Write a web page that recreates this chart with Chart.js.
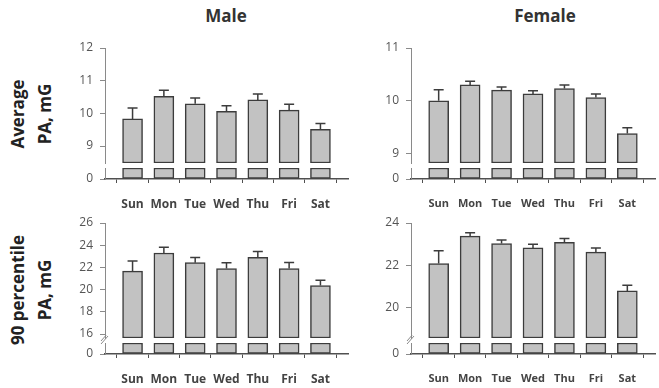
<!DOCTYPE html>
<html>
<head>
<meta charset="utf-8">
<script src="https://cdn.jsdelivr.net/npm/chart.js@4.4.1/dist/chart.umd.min.js"></script>
<style>
  body { margin: 0; background: #fff; }
  #wrap { position: relative; width: 659px; height: 388px; overflow: hidden; font-family: "Open Sans", sans-serif; }
  canvas { position: absolute; }
  .title { position: absolute; top: 4px; font-weight: bold; font-size: 17px; color: #333; transform: translateX(-50%); }
  .rowlab { position: absolute; font-weight: bold; font-size: 17px; color: #222; line-height: 27px;
            text-align: center; white-space: nowrap; transform: translate(-50%, -50%) rotate(-90deg); }
</style>
</head>
<body>
<div id="wrap">
  <div class="title" style="left:226px">Male</div>
  <div class="title" style="left:545px">Female</div>
  <div class="rowlab" style="left:31px; top:114px">Average<br>PA, mG</div>
  <div class="rowlab" style="left:31px; top:290px">90 percentile<br>PA, mG</div>
</div>

<script>
// dager og verdier lest av bildet (gjennomsnitt + standardfeil)
const days = ['Sun', 'Mon', 'Tue', 'Wed', 'Thu', 'Fri', 'Sat'];

const maleAvg = [9.83, 10.52, 10.29, 10.06, 10.41, 10.10, 9.51];
const maleAvgErr = [0.33, 0.19, 0.18, 0.17, 0.18, 0.18, 0.18];
const femaleAvg = [10.00, 10.30, 10.20, 10.13, 10.23, 10.06, 9.38];
const femaleAvgErr = [0.21, 0.07, 0.06, 0.06, 0.07, 0.07, 0.11];

const male90 = [21.67, 23.30, 22.43, 21.90, 22.90, 21.90, 20.36];
const male90Err = [0.91, 0.52, 0.47, 0.53, 0.53, 0.55, 0.49];
const female90 = [22.08, 23.38, 23.03, 22.82, 23.08, 22.62, 20.78];
const female90Err = [0.60, 0.16, 0.17, 0.17, 0.19, 0.19, 0.27];

// y-akse: ticks over bruddet
const maleAvgTicks = [9, 10, 11, 12];
const femaleAvgTicks = [9, 10, 11];
const male90Ticks = [16, 18, 20, 22, 24, 26];
const female90Ticks = [20, 22, 24];

const lowerTicks = [0];

const wrap = document.getElementById('wrap');
const BAR_FILL = '#c2c2c2';
const BAR_EDGE = '#3c3c3c';
const Y_COLOR = '#8a8a8a';
const X_COLOR = '#505050';

function makeCanvas(left, top, width, height) {
    const c = document.createElement('canvas');
    c.width = width;
    c.height = height;
    c.style.left = left + 'px';
    c.style.top = top + 'px';
    wrap.appendChild(c);
    return c;
}

// feilstolper (bare opp) tegnes med skalaene til grafen
const errorBars = {
    id: 'errorBars',
    afterDatasetsDraw(chart, args, opts) {
        const ctx = chart.ctx;
        const xs = chart.scales.x, ys = chart.scales.y;
        ctx.save();
        ctx.strokeStyle = BAR_EDGE;
        ctx.lineWidth = 1.5;
        opts.values.forEach((v, i) => {
            const x = xs.getPixelForValue(i);
            const y0 = ys.getPixelForValue(v);
            const y1 = ys.getPixelForValue(v + opts.errors[i]);
            ctx.beginPath();
            ctx.moveTo(x, y0);
            ctx.lineTo(x, y1);
            ctx.moveTo(x - 5, y1);
            ctx.lineTo(x + 5, y1);
            ctx.stroke();
        });
        ctx.restore();
    }
};

// "//" merke på y-aksen
const breakMark = {
    id: 'breakMark',
    afterDraw(chart, args, opts) {
        if (!opts.show) return;
        const ctx = chart.ctx;
        const a = chart.chartArea;
        ctx.save();
        ctx.strokeStyle = Y_COLOR;
        ctx.lineWidth = 1;
        [0, 3].forEach(d => {
            ctx.beginPath();
            ctx.moveTo(a.left - 4, a.top + 1 - d);
            ctx.lineTo(a.left + 3, a.top - 7 - d);
            ctx.stroke();
        });
        ctx.restore();
    }
};

function fixY(s, w) {
    s.width = w;
    s.paddingTop = 0;
    s.paddingBottom = 0;
}

function xScale(show, fontSize) {
    return {
        type: 'linear',
        display: show,
        min: -0.88,
        max: 6.88,
        offset: false,
        afterBuildTicks: s => { s.ticks = days.map((d, i) => ({ value: i })); },
        afterFit: s => { if (show) { s.height = 40; } s.paddingLeft = 0; s.paddingRight = 0; },
        border: { color: X_COLOR, width: 1.5 },
        grid: { drawOnChartArea: false, tickLength: 4, color: X_COLOR, lineWidth: 1 },
        ticks: {
            autoSkip: false, maxRotation: 0, padding: 14,
            color: '#444', font: { family: 'Open Sans', size: fontSize, weight: 'bold' },
            callback: v => days[v]
        }
    };
}

function yScale(min, max, ticks) {
    return {
        min: min,
        max: max,
        afterBuildTicks: s => { s.ticks = ticks.map(v => ({ value: v })); },
        afterFit: s => fixY(s, 45),
        border: { color: Y_COLOR, width: 1 },
        grid: { drawOnChartArea: false, tickLength: 5, color: Y_COLOR },
        ticks: { padding: 7, color: '#555', font: { family: 'Open Sans', size: 12 } }
    };
}

function panel(axisX, plotRight, upperTop, upperBottom, lowerTop, lowerBottom,
               values, errors, yMin, yMax, ticks, fontSize, showBreak) {
    const left = axisX - 45;
    const width = plotRight - left + 3;

    // øvre del (over bruddet)
    const up = makeCanvas(left, upperTop - 8, width, upperBottom - upperTop + 10);
    new Chart(up, {
        type: 'bar',
        data: {
            datasets: [{
                data: values.map((v, i) => ({ x: i, y: [yMin, v] })),
                backgroundColor: BAR_FILL,
                borderColor: BAR_EDGE,
                borderWidth: 1.5,
                borderSkipped: false,
                barThickness: 20
            }]
        },
        options: {
            responsive: false,
            animation: false,
            layout: { padding: { top: 8, right: 3, bottom: 2, left: 0 } },
            plugins: {
                legend: { display: false },
                tooltip: { enabled: false },
                errorBars: { values: values, errors: errors }
            },
            scales: { x: xScale(false, fontSize), y: yScale(yMin, yMax, ticks) }
        },
        plugins: [errorBars]
    });

    // nedre del (0 - bruddet)
    const low = makeCanvas(left, lowerTop - 8, width, lowerBottom - lowerTop + 48);
    new Chart(low, {
        type: 'bar',
        data: {
            datasets: [{
                data: days.map((d, i) => ({ x: i, y: [0, 1] })),
                backgroundColor: BAR_FILL,
                borderColor: BAR_EDGE,
                borderWidth: 1.5,
                borderSkipped: false,
                barThickness: 20
            }]
        },
        options: {
            responsive: false,
            animation: false,
            layout: { padding: { top: 8, right: 3, bottom: 0, left: 0 } },
            plugins: {
                legend: { display: false },
                tooltip: { enabled: false },
                breakMark: { show: showBreak }
            },
            scales: { x: xScale(true, fontSize), y: yScale(0, 1, lowerTicks) }
        },
        plugins: [breakMark]
    });
}

panel(105, 348, 48, 163, 168, 179, maleAvg, maleAvgErr, 8.48, 12, maleAvgTicks, 12, false);
panel(411, 655, 48, 163, 168, 179, femaleAvg, femaleAvgErr, 8.82, 11, femaleAvgTicks, 11, false);
panel(105, 348, 223, 338, 343, 354, male90, male90Err, 15.64, 26, male90Ticks, 12, true);
panel(411, 655, 223, 338, 343, 354, female90, female90Err, 18.55, 24, female90Ticks, 11, true);
</script>
</body>
</html>
